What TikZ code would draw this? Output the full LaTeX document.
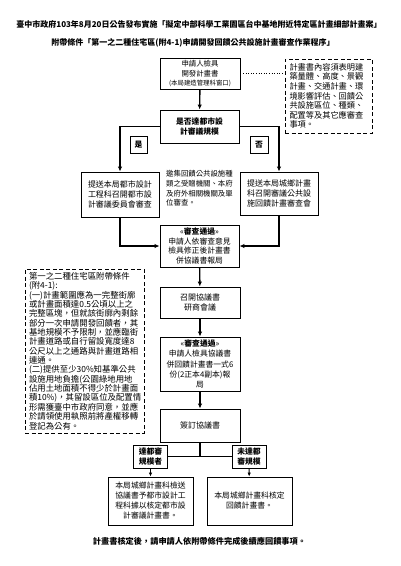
\documentclass[tikz,border=0pt]{standalone}
\usepackage{fontspec}
\setmainfont{Noto Sans CJK TC}
\usetikzlibrary{arrows.meta}

\tikzset{
  box/.style={draw, line width=0.9pt, align=center, inner sep=0.75pt, font=\fontsize{8}{10.4}\selectfont},
  tagbox/.style={draw, line width=0.9pt, align=center, inner sep=0.75pt, font=\bfseries\fontsize{7.8}{10.4}\selectfont},
  notebox/.style={draw, line width=0.9pt, dash pattern=on 4pt off 2.5pt, align=left, inner sep=2pt, font=\fontsize{8.2}{9.6}\selectfont},
  flow/.style={line width=1.4pt, -{Latex[length=5pt,width=4.5pt]}},
  thinflow/.style={line width=0.9pt, -{Latex[length=4pt,width=3.5pt]}},
}

\begin{document}
\begin{tikzpicture}[x=1pt,y=1pt,yscale=-1,xscale=1]
\useasboundingbox (0,0) rectangle (400,566);

% Text Node
\draw (199,24) node [inner sep=0.75pt, font=\bfseries\fontsize{8}{10}\selectfont] (title1) {臺中市政府103年8月20日公告發布實施「擬定中部科學工業園區台中基地附近特定區計畫細部計畫案」};
% Text Node
\draw (193,43) node [inner sep=0.75pt, font=\bfseries\fontsize{8}{10}\selectfont] (title2) {附帶條件「第一之二種住宅區(附4-1)申請開發回饋公共設施計畫審查作業程序」};

%Shape: Rectangle
\draw (200,73.5) node [box, minimum width=80pt, minimum height=31pt, font=\fontsize{7.4}{9.2}\selectfont] (apply) {申請人檢具\\開發計畫書\\{\fontsize{6.4}{8}\selectfont (本局建造管理科窗口)}};
%Shape: Rectangle
\draw (328.5,96) node [notebox, text width=78pt, minimum height=74pt, inner xsep=4.5pt] (contents) {計畫書內容須表明建\\築量體、高度、景觀\\計畫、交通計畫、環\\境影響評估、回饋公\\共設施區位、種類、\\配置等及其它應審查\\事項。};
%Shape: Rectangle
\draw (199.5,126.5) node [box, minimum width=79pt, minimum height=33pt, font=\bfseries\fontsize{7.8}{10.4}\selectfont] (decide) {是否達都市設\\計審議規模};
%Shape: Rectangle
\draw (138.5,144.5) node [tagbox, minimum width=17pt, minimum height=17pt] (yestag) {是};
%Shape: Rectangle
\draw (259,144.5) node [tagbox, minimum width=18pt, minimum height=17pt] (notag) {否};

%Shape: Rectangle
\draw (120,194.5) node [box, minimum width=78pt, minimum height=45pt] (udreview) {提送本局都市設計\\工程科召開都市設\\計審議委員會審查};
% Text Node
\draw (199.5,188.5) node [align=left, inner sep=0pt, font=\fontsize{7.4}{9.7}\selectfont] (agency) {邀集回饋公共設施種\\類之受贈機關、本府\\及府外相關機關及單\\位審查。};
%Shape: Rectangle
\draw (279,193.5) node [box, minimum width=78pt, minimum height=43pt] (ruralreview) {提送本局城鄉計畫\\科召開審議公共設\\施回饋計畫審查會};

%Shape: Rectangle
\draw (199.5,246) node [box, minimum width=79pt, minimum height=42pt, font=\fontsize{7.8}{9.4}\selectfont] (revised) {<<{\bfseries 審查通過}>>\\申請人依審查意見\\檢具修正後計畫書\\併協議書報局};

%Shape: Rectangle
\draw (84.5,351) node [notebox, text width=111pt, minimum height=164pt, inner xsep=4pt, font=\fontsize{8.4}{9.35}\selectfont] (appendix) {第一之二種住宅區附帶條件\\(附4-1):\\(一)計畫範圍應為一完整街廓\\或計畫面積達0.5公頃以上之\\完整區塊，但就該街廓內剩餘\\部分一次申請開發回饋者，其\\基地規模不予限制，並應臨街\\計畫道路或自行留設寬度達8\\公尺以上之通路與計畫道路相\\連通。\\(二)提供至少30\%知基準公共\\設施用地負擔(公園綠地用地\\佔用土地面積不得少於計畫面\\積10\%)，其留設區位及配置情\\形需獲臺中市政府同意，並應\\於請領使用執照前將產權移轉\\登記為公有。};

%Shape: Rectangle
\draw (200,302.5) node [box, minimum width=80pt, minimum height=31pt] (meeting) {召開協議書\\研商會議};
%Shape: Rectangle
\draw (200,364) node [box, minimum width=80pt, minimum height=54pt, font=\fontsize{7.8}{10.2}\selectfont] (submit) {<<{\bfseries 審查通過}>>\\申請人檢具協議書\\併回饋計畫書一式6\\份(2正本4副本)報\\局};
%Shape: Rectangle
\draw (200,425.5) node [box, minimum width=80pt, minimum height=33pt] (sign) {簽訂協議書};

%Shape: Rectangle
\draw (150.5,456.5) node [tagbox, minimum width=34pt, minimum height=23pt] (udtag) {達都審\\規模者};
%Shape: Rectangle
\draw (249,456.5) node [tagbox, minimum width=34pt, minimum height=23pt] (ruraltag) {未達都\\審規模};

%Shape: Rectangle
\draw (150.5,501) node [box, minimum width=85pt, minimum height=48pt, font=\fontsize{7.8}{10}\selectfont] (udfinal) {本局城鄉計畫科檢送\\協議書予都市設計工\\程科據以核定都市設\\計審議計畫書。};
%Shape: Rectangle
\draw (249.5,501) node [box, minimum width=85pt, minimum height=48pt, font=\fontsize{7.8}{10}\selectfont] (ruralfinal) {本局城鄉計畫科核定\\回饋計畫書。};

% Text Node
\draw (199.5,541) node [inner sep=0.75pt, font=\bfseries\fontsize{8.2}{10}\selectfont] (closing) {計畫書核定後，請申請人依附帶條件完成後續應回饋事項。};

%Straight Lines
\draw [flow] (apply) -- (decide);
\draw [dotted, line width=0.6pt] (apply.east) -- (apply.east -| contents.west);
\draw [flow] (decide.west) -| (udreview);
\draw [flow] (decide.east) -| (ruralreview);
\draw [flow] (udreview) |- (revised);
\draw [flow] (ruralreview) |- (revised);
\draw [flow] (revised) -- (meeting);
\draw [flow] (meeting) -- (submit);
\draw [flow] (submit) -- (sign);
\draw [line width=1.4pt] (sign) -- (sign |- udtag);
\draw [line width=1.4pt] (udtag) -- (ruraltag);
\draw [thinflow] (udtag) -- (udfinal);
\draw [thinflow] (ruraltag) -- (ruralfinal);
\end{tikzpicture}
\end{document}
